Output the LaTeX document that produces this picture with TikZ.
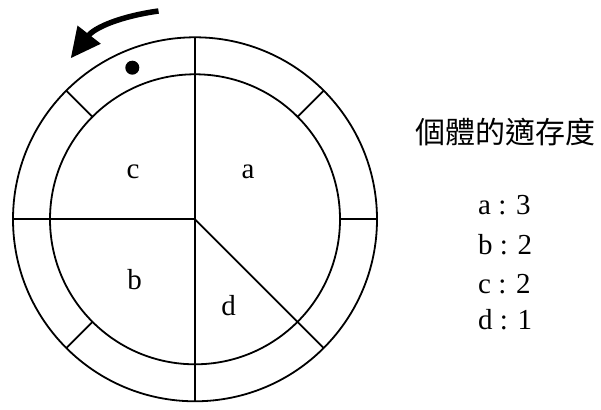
\documentclass[tikz,border=0pt]{standalone}
\usepackage{fontspec}
\setmainfont{Liberation Serif}
\newfontfamily\cjk{Noto Sans CJK TC}
\usetikzlibrary{arrows.meta,calc}
\tikzset{
  wheel/.style={line width=1.8pt},
  lbl/.style={inner sep=0pt, anchor=base, font=\fontsize{29}{34}\selectfont},
  fit/.style={inner sep=0pt, anchor=base west, font=\fontsize{29}{34}\selectfont},
}
\begin{document}
\begin{tikzpicture}[x=1pt,y=1pt]
\useasboundingbox (0,0) rectangle (601,409);
\coordinate (C) at (195,189.7);
\def\Ro{182}
\def\Ri{145}
% circles
\draw[wheel] (C) circle[radius=\Ro];
\draw[wheel] (C) circle[radius=\Ri];
% full sector lines
\draw[wheel] ($(C)+(90:\Ro)$) -- ($(C)+(270:\Ro)$);
\draw[wheel] (C) -- ($(C)+(180:\Ro)$);
\draw[wheel] (C) -- ($(C)+(-45:\Ro)$);
% ring-only separators
\foreach \a in {0,45,135,225}
  \draw[wheel] ($(C)+(\a:\Ri)$) -- ($(C)+(\a:\Ro)$);
% pointer dot
\fill (132.3,341.3) circle[radius=7];
% rotation arrow
\coordinate (tail) at (158.5,398);
\coordinate (tip) at (70.7,350.7);
\draw[line width=5.5pt, -{Triangle[length=30pt,width=28pt]}] (tail) to[out=188,in=52] (tip);
% sector labels
\node[lbl] (la) at (248,230.7) {a};
\node[lbl] (lc) at (133,230.7) {c};
\node[lbl] (lb) at (134.7,119) {b};
\node[lbl] (ld) at (228.5,93) {d};
% fitness list
\node[inner sep=0pt, font=\cjk\fontsize{30}{34}\selectfont] (title) at (505,276.5) {個體的適存度};
\node[fit] (fa) at (478,194) {a : 3};
\node[fit] (fb) at (478,154) {b : 2};
\node[fit] (fc) at (478,115.7) {c : 2};
\node[fit] (fd) at (478,79) {d : 1};
\end{tikzpicture}
\end{document}
